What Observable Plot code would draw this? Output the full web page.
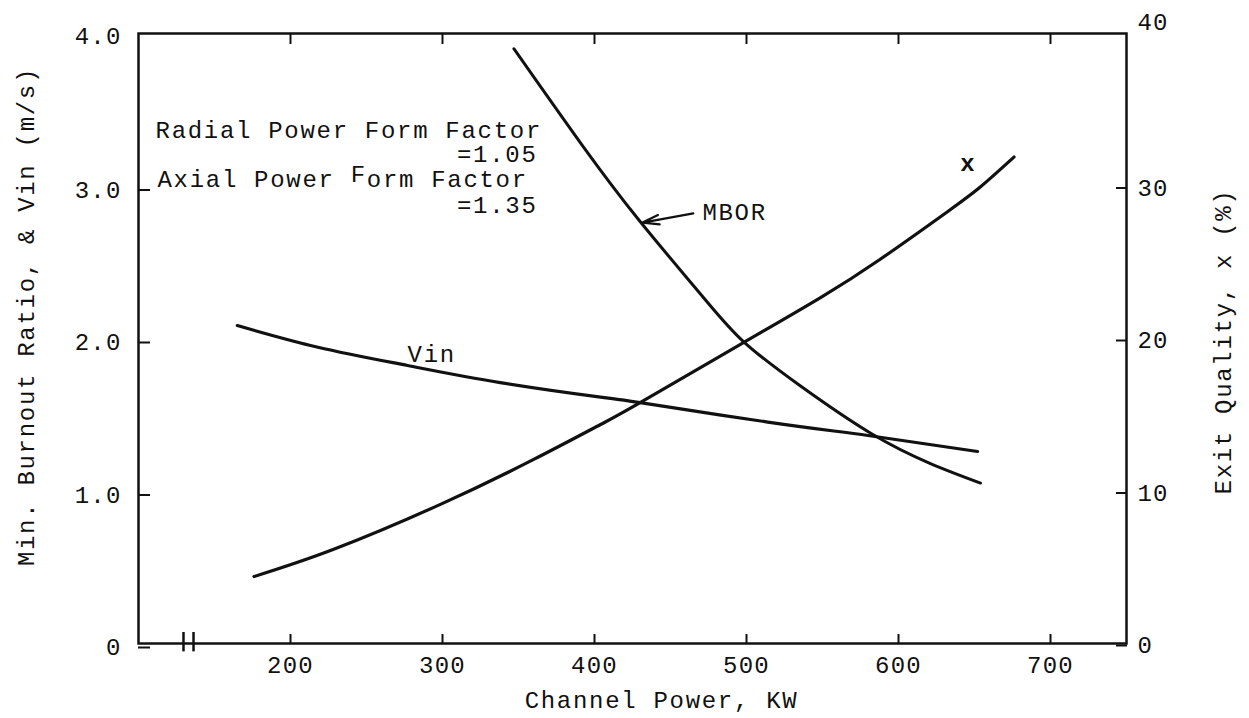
<!DOCTYPE html>
<html>
<head>
<meta charset="utf-8">
<script src="https://cdn.jsdelivr.net/npm/d3@7"></script>
<script src="https://cdn.jsdelivr.net/npm/@observablehq/plot@0.6"></script>
<style>
  html, body { margin: 0; padding: 0; background: #fff; }
  #chart svg { display: block; }
  #chart g[aria-label="text"] text { letter-spacing: 1.7px; }
  #chart g[aria-label$="tick label"] text { letter-spacing: 1.2px; }
</style>
</head>
<body>
<div id="chart"></div>
<script>
// ---- Axis ticks ----
const xTicks = [200, 300, 400, 500, 600, 700];
const yTicks = [0, 1, 2, 3];                // left/right axis ticks below the top
const yTopTick = [4];                       // top tick (right label "40" sits higher)
const yRightFactor = 10;                    // right axis: exit quality (%) = left value * 10
const breakPower = [129.6, 136.2];          // axis-break marks on the power axis

// ---- Series: Vin (m/s) vs channel power (kW) ----
const vinPower = [165, 218, 277, 338, 404, 430, 514, 580, 652];
const vinValue = [2.085, 1.943, 1.823, 1.711, 1.616, 1.58, 1.452, 1.364, 1.259];

// ---- Series: MBOR vs channel power (kW) ----
const mborPower = [347, 391, 430, 470, 498, 536, 582, 621, 654];
const mborValue = [3.90, 3.28, 2.767, 2.289, 1.98, 1.685, 1.377, 1.18, 1.052];

// ---- Series: exit quality x (%) vs channel power (kW) ----
const xqPower = [176, 228, 299, 360, 404, 430, 498, 549, 588, 632, 654, 676];
const xqValue = [4.39, 6.16, 9.14, 12.07, 14.36, 15.79, 19.73, 22.7, 25.2, 28.3, 29.95, 31.9];

// ---- Text ----
const titleX = "Channel Power, KW";
const titleYLeft = "Min. Burnout Ratio, & Vin (m/s)";
const titleYRight = "Exit Quality, x (%)";

const vin = vinPower.map((p, i) => ({power: p, value: vinValue[i]}));
const mbor = mborPower.map((p, i) => ({power: p, value: mborValue[i]}));
const xq = xqPower.map((p, i) => ({power: p, value: xqValue[i] / yRightFactor}));

const mono = "'Liberation Mono', 'Courier New', monospace";
const ink = "#111";
const fs = 24;
const cell = 0.6 * fs + 1.7;

const T = (o) => ({fontFamily: mono, fontSize: fs, fill: ink, lineAnchor: "bottom", ...o});
const leftFmt = d => d === 0 ? "0" : d.toFixed(1);
const rightFmt = d => String(d * yRightFactor);

const chart = Plot.plot({
  width: 1249,
  height: 718,
  marginLeft: 138,
  marginRight: 123,
  marginTop: 33,
  marginBottom: 75,
  style: {fontFamily: mono, color: ink, background: "#fff", overflow: "visible"},
  x: {domain: [100, 750], axis: null},
  y: {domain: [0, 4], axis: null},
  marks: [
    Plot.frame({stroke: ink, strokeWidth: 2.5}),
    // bottom axis
    Plot.axisX(xTicks, {anchor: "bottom", tickSize: -9, tickPadding: 21, strokeWidth: 2,
      fontFamily: mono, fontSize: 24, tickFormat: d => String(d), stroke: ink}),
    // top axis ticks
    Plot.axisX(xTicks, {anchor: "top", tickSize: -10, tickPadding: 0, strokeWidth: 2,
      tickFormat: () => "", stroke: ink}),
    // left axis
    Plot.axisY(yTicks, {anchor: "left", tickSize: -12, tickPadding: 29, strokeWidth: 2, dy: 4,
      fontFamily: mono, fontSize: 24, tickFormat: leftFmt, stroke: ink}),
    Plot.axisY(yTopTick, {anchor: "left", tickSize: 0, tickPadding: 17, dy: 3,
      fontFamily: mono, fontSize: 24, tickFormat: leftFmt, stroke: ink}),
    // right axis
    Plot.axisY(yTicks, {anchor: "right", tickSize: -11, tickPadding: 22, strokeWidth: 2, dy: 2,
      fontFamily: mono, fontSize: 24, tickFormat: rightFmt, stroke: ink}),
    Plot.axisY(yTopTick, {anchor: "right", tickSize: 0, tickPadding: 11, dy: -11,
      fontFamily: mono, fontSize: 24, tickFormat: rightFmt, stroke: ink}),
    // axis break
    Plot.ruleX(breakPower, {x: d => d, y1: -0.055, y2: 0.072, stroke: ink, strokeWidth: 2.5}),
    // curves
    Plot.line(vin, {x: "power", y: "value", curve: "natural", stroke: ink, strokeWidth: 3.2}),
    Plot.line(mbor, {x: "power", y: "value", curve: "natural", stroke: ink, strokeWidth: 3}),
    Plot.line(xq, {x: "power", y: "value", curve: "natural", stroke: ink, strokeWidth: 3.2}),
    // MBOR arrow
    Plot.arrow([{x1: 465, y1: 2.82, x2: 431.6, y2: 2.76}], {x1: "x1", y1: "y1", x2: "x2", y2: "y2",
      stroke: ink, strokeWidth: 2.2, headAngle: 32, headLength: 16}),
    // curve labels
    Plot.text([{x: 277, y: 1.843, t: "Vin"}], T({x: "x", y: "y", text: "t", textAnchor: "start"})),
    Plot.text([{x: 471, y: 2.78, t: "MBOR"}], T({x: "x", y: "y", text: "t", textAnchor: "start"})),
    Plot.text([{x: 646, y: 3.10, t: "x"}], T({x: "x", y: "y", text: "t", textAnchor: "middle", fontWeight: "bold"})),
    // form-factor notes
    Plot.text([{x: 111.2, y: 3.318, t: "Radial Power Form Factor"}], T({x: "x", y: "y", text: "t", textAnchor: "start"})),
    Plot.text([{x: 362.5, y: 3.155, t: "=1.05"}], T({x: "x", y: "y", text: "t", textAnchor: "end"})),
    Plot.text([{x: 112.5, y: 2.995, t: "Axial Power"}], T({x: "x", y: "y", text: "t", textAnchor: "start"})),
    Plot.text([{x: 112.5, y: 2.995, t: "F"}], T({x: "x", y: "y", text: "t", textAnchor: "start", dx: 12 * cell, dy: -5})),
    Plot.text([{x: 112.5, y: 2.995, t: "orm Factor"}], T({x: "x", y: "y", text: "t", textAnchor: "start", dx: 13 * cell})),
    Plot.text([{x: 362.5, y: 2.826, t: "=1.35"}], T({x: "x", y: "y", text: "t", textAnchor: "end"})),
    // axis titles
    Plot.text([titleX], T({frameAnchor: "bottom", text: d => d, textAnchor: "middle", dx: 29, dy: 64})),
    Plot.text([titleYLeft], T({frameAnchor: "left", text: d => d, textAnchor: "middle", dx: -112, dy: -22, rotate: -90, lineAnchor: "middle"})),
    Plot.text([titleYRight], T({frameAnchor: "right", text: d => d, textAnchor: "middle", dx: 97, dy: 3, rotate: -90, lineAnchor: "middle"}))
  ]
});
document.getElementById("chart").appendChild(chart);
</script>
</body>
</html>
